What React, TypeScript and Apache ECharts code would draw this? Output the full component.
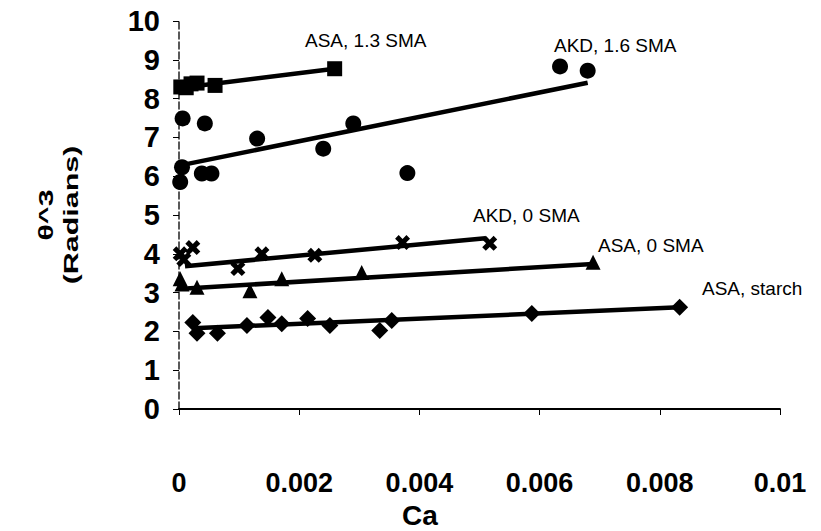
import React, { useEffect, useRef } from "react";
import * as echarts from "echarts";

// ---- data ----
const xTickLabels = ["0", "0.002", "0.004", "0.006", "0.008", "0.01"];
const yTickLabels = ["0", "1", "2", "3", "4", "5", "6", "7", "8", "9", "10"];
const xRange = [0, 0.01];

const asa13Ca = [0.00003, 0.00012, 0.0002, 0.0003, 0.0006, 0.00259];
const asa13Theta = [8.3, 8.28, 8.38, 8.4, 8.34, 8.77];
const asa13FitCa = [0.00005, 0.00259];
const asa13FitTheta = [8.28, 8.77];

const akd16Ca = [0.00002, 0.00005, 0.00038, 0.00054, 0.00006, 0.00043, 0.0013, 0.0024, 0.0029, 0.0038, 0.00634, 0.0068];
const akd16Theta = [5.85, 6.23, 6.07, 6.07, 7.49, 7.36, 6.97, 6.71, 7.36, 6.08, 8.83, 8.72];
const akd16FitCa = [0.00002, 0.0068];
const akd16FitTheta = [6.28, 8.41];

const akd0Ca = [0.00002, 0.00008, 0.00023, 0.00098, 0.00138, 0.00226, 0.00372, 0.00517];
const akd0Theta = [4.0, 3.85, 4.16, 3.62, 4.0, 3.96, 4.29, 4.27];
const akd0FitCa = [0.0001, 0.0051];
const akd0FitTheta = [3.68, 4.4];

const asa0Ca = [0.00002, 0.00005, 0.0003, 0.00118, 0.00171, 0.00304, 0.00689];
const asa0Theta = [3.36, 3.22, 3.14, 3.05, 3.36, 3.52, 3.78];
const asa0FitCa = [0.00005, 0.00689];
const asa0FitTheta = [3.1, 3.74];

const starchCa = [0.00023, 0.0003, 0.00064, 0.00113, 0.00148, 0.00171, 0.00214, 0.00251, 0.00334, 0.00354, 0.00587, 0.00833];
const starchTheta = [2.23, 1.95, 1.95, 2.15, 2.36, 2.2, 2.33, 2.15, 2.02, 2.28, 2.46, 2.62];
const starchFitCa = [0.00023, 0.00833];
const starchFitTheta = [2.08, 2.62];

const zip = (a: number[], b: number[]) => a.map((v, i) => [v, b[i]]);

const FONT = "'Liberation Sans', Arial, sans-serif";
const CROSS = "path://M2.4,0 L5,2.6 L7.6,0 L10,2.4 L7.4,5 L10,7.6 L7.6,10 L5,7.4 L2.4,10 L0,7.6 L2.6,5 L0,2.4 Z";

function fit(name: string, ca: number[], th: number[]) {
  return {
    name: name + " fit",
    type: "line",
    data: zip(ca, th),
    showSymbol: false,
    symbol: "none",
    clip: false,
    lineStyle: { color: "#000", width: 4.5, opacity: 1 },
  };
}
function pts(name: string, ca: number[], th: number[], symbol: string, size: number, extra: any = {}) {
  return {
    name,
    type: "scatter",
    data: zip(ca, th),
    symbol,
    symbolSize: size,
    clip: false,
    itemStyle: { color: "#000", opacity: 1 },
    ...extra,
  };
}

export default function App() {
  const ref = useRef<HTMLDivElement>(null);
  useEffect(() => {
    if (!ref.current) return;
    const chart = echarts.init(ref.current, null, { renderer: "svg" });
    chart.setOption({
      animation: false,
      grid: { left: 179, right: 41, top: 21, bottom: 122 },
      xAxis: {
        type: "value",
        min: xRange[0],
        max: xRange[1],
        interval: 0.002,
        axisLine: { show: true, onZero: false, lineStyle: { color: "#000", width: 2 } },
        axisTick: { show: true, length: 6, lineStyle: { color: "#000", width: 1 } },
        splitLine: { show: false },
        axisLabel: {
          margin: 60,
          color: "#000",
          fontFamily: FONT,
          fontWeight: "bold",
          fontSize: 27,
          formatter: (v: number) => xTickLabels[Math.round(v / 0.002)] ?? "",
        },
      },
      yAxis: {
        type: "value",
        min: 0,
        max: 10,
        interval: 1,
        axisLine: { show: true, onZero: false, lineStyle: { color: "#222", width: 1.5, type: [7, 3] } },
        axisTick: { show: true, length: 6, lineStyle: { color: "#000", width: 1 } },
        splitLine: { show: false },
        axisLabel: {
          margin: 19,
          color: "#000",
          fontFamily: FONT,
          fontWeight: "bold",
          fontSize: 29,
          formatter: (v: number) => yTickLabels[Math.round(v)] ?? "",
        },
      },
      graphic: [
        {
          type: "text",
          x: 58,
          y: 215,
          rotation: Math.PI / 2,
          scaleX: 1.45,
          style: {
            text: "θ^3\n(Radians)",
            align: "center",
            verticalAlign: "middle",
            font: `bold 21px ${FONT}`,
            lineHeight: 25,
            fill: "#000",
          },
        },
        {
          type: "text",
          x: 420,
          y: 515,
          style: {
            text: "Ca",
            align: "center",
            verticalAlign: "middle",
            font: `bold 28px ${FONT}`,
            fill: "#000",
          },
        },
        { type: "text", x: 305, y: 40, style: { text: "ASA, 1.3 SMA", verticalAlign: "middle", font: `19px ${FONT}`, fill: "#000" } },
        { type: "text", x: 554, y: 45, style: { text: "AKD, 1.6 SMA", verticalAlign: "middle", font: `19px ${FONT}`, fill: "#000" } },
        { type: "text", x: 473, y: 215, style: { text: "AKD, 0 SMA", verticalAlign: "middle", font: `19px ${FONT}`, fill: "#000" } },
        { type: "text", x: 598, y: 245, style: { text: "ASA, 0 SMA", verticalAlign: "middle", font: `19px ${FONT}`, fill: "#000" } },
        { type: "text", x: 702, y: 288, style: { text: "ASA, starch", verticalAlign: "middle", font: `19px ${FONT}`, fill: "#000" } },
      ],
      series: [
        fit("ASA, 1.3 SMA", asa13FitCa, asa13FitTheta),
        fit("AKD, 1.6 SMA", akd16FitCa, akd16FitTheta),
        fit("AKD, 0 SMA", akd0FitCa, akd0FitTheta),
        fit("ASA, 0 SMA", asa0FitCa, asa0FitTheta),
        fit("ASA, starch", starchFitCa, starchFitTheta),
        pts("ASA, 1.3 SMA", asa13Ca, asa13Theta, "rect", 15),
        pts("AKD, 1.6 SMA", akd16Ca, akd16Theta, "circle", 16),
        pts("AKD, 0 SMA", akd0Ca, akd0Theta, CROSS, 15),
        pts("ASA, 0 SMA", asa0Ca, asa0Theta, "triangle", 15),
        pts("ASA, starch", starchCa, starchTheta, "diamond", 17, {
          markLine: {
            silent: true,
            symbol: "none",
            label: { show: false },
            lineStyle: { color: "#000", width: 2, type: "solid" },
            data: [[{ coord: [xRange[0], 0] }, { coord: [xRange[1], 0] }]],
          },
        }),
      ],
    });
    return () => chart.dispose();
  }, []);
  return <div ref={ref} style={{ width: 821, height: 531, position: "absolute", left: 0, top: 0 }} />;
}
